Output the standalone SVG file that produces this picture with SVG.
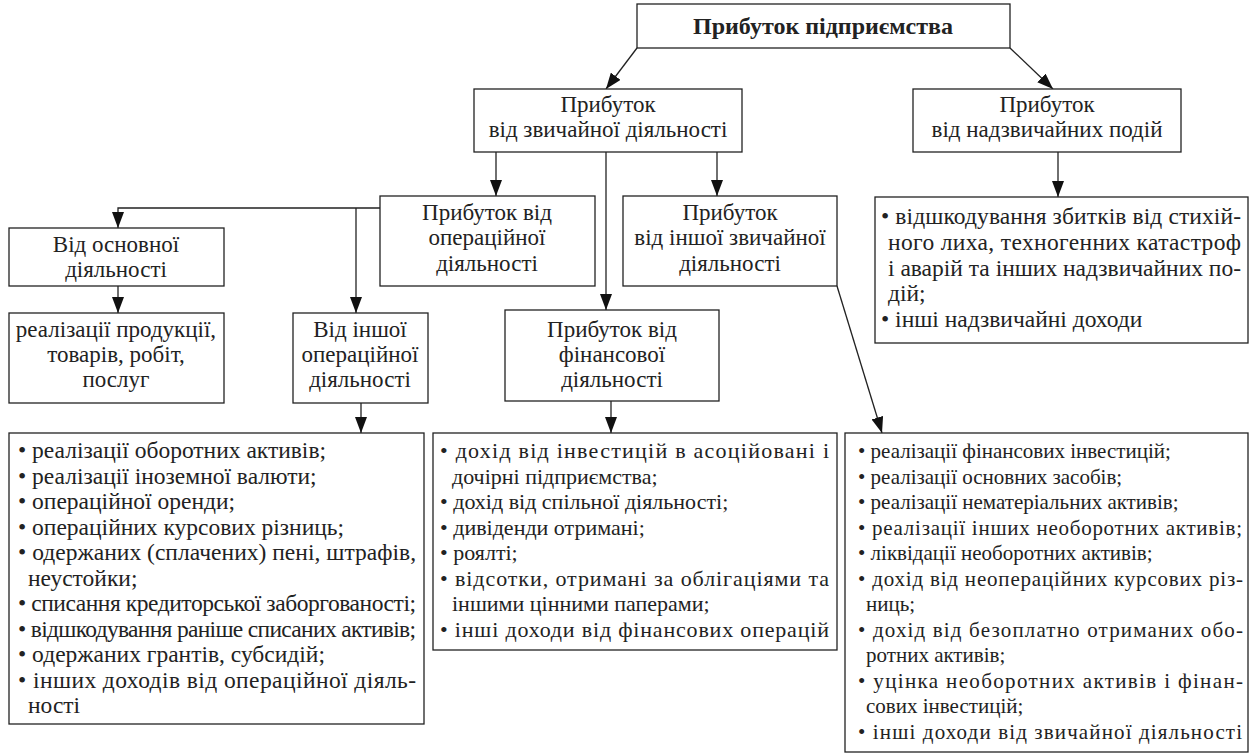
<svg xmlns="http://www.w3.org/2000/svg" width="1249" height="754" viewBox="0 0 1249 754">
<defs>
<style>
.box{fill:#fff;stroke:#222;stroke-width:1.3}
.t{font-family:"Liberation Serif","Times New Roman",serif;font-size:23px;fill:#222;text-anchor:middle}
.b{font-weight:bold;font-size:24px}
.l{font-family:"Liberation Serif","Times New Roman",serif;font-size:23.5px;fill:#222}
.f{font-size:22px}
.r{font-size:21px}
.c{fill:none;stroke:#222;stroke-width:1.3}
</style>
<marker id="ah" markerUnits="userSpaceOnUse" markerWidth="16" markerHeight="12" refX="16" refY="6" orient="auto">
<path d="M0,0 L16,6 L0,12 z" fill="#111"/>
</marker>
</defs>
<rect width="1249" height="754" fill="#fff"/>
<g id="connectors">
<line class="c" x1="637" y1="48" x2="606" y2="89" marker-end="url(#ah)"/>
<line class="c" x1="1010" y1="48" x2="1053" y2="89" marker-end="url(#ah)"/>
<line class="c" x1="496" y1="152" x2="496" y2="196" marker-end="url(#ah)"/>
<line class="c" x1="606" y1="152" x2="606" y2="310" marker-end="url(#ah)"/>
<line class="c" x1="717" y1="152" x2="717" y2="196" marker-end="url(#ah)"/>
<polyline class="c" points="380,208 118,208 118,228" marker-end="url(#ah)"/>
<line class="c" x1="356" y1="208" x2="356" y2="313" marker-end="url(#ah)"/>
<line class="c" x1="118" y1="286" x2="118" y2="313" marker-end="url(#ah)"/>
<line class="c" x1="361" y1="403" x2="361" y2="433" marker-end="url(#ah)"/>
<line class="c" x1="611" y1="401" x2="611" y2="433" marker-end="url(#ah)"/>
<line class="c" x1="837" y1="286" x2="882" y2="433" marker-end="url(#ah)"/>
<line class="c" x1="1058" y1="152" x2="1058" y2="197" marker-end="url(#ah)"/>
</g>
<g id="n-top">
<rect class="box" x="637" y="4" width="373" height="44"/>
<text class="t b" x="823" y="34">Прибуток підприємства</text>
</g>
<g id="n-ordinary">
<rect class="box" x="474" y="89" width="268" height="63"/>
<text class="t" x="608" y="112">Прибуток</text>
<text class="t" x="608" y="137">від звичайної діяльності</text>
</g>
<g id="n-extra">
<rect class="box" x="913" y="89" width="268" height="63"/>
<text class="t" x="1047" y="112">Прибуток</text>
<text class="t" x="1047" y="137">від надзвичайних подій</text>
</g>
<g id="n-oper">
<rect class="box" x="380" y="196" width="215" height="90"/>
<text class="t" x="487" y="220">Прибуток від</text>
<text class="t" x="487" y="245">операційної</text>
<text class="t" x="487" y="271">діяльності</text>
</g>
<g id="n-otherord">
<rect class="box" x="623" y="196" width="214" height="90"/>
<text class="t" x="730" y="220">Прибуток</text>
<text class="t" x="730" y="245">від іншої звичайної</text>
<text class="t" x="730" y="271">діяльності</text>
</g>
<g id="n-main">
<rect class="box" x="9" y="228" width="215" height="58"/>
<text class="t" x="116" y="252">Від основної</text>
<text class="t" x="116" y="277">діяльності</text>
</g>
<g id="n-sales">
<rect class="box" x="9" y="313" width="215" height="90"/>
<text class="t" x="116" y="337">реалізації продукції,</text>
<text class="t" x="116" y="362">товарів, робіт,</text>
<text class="t" x="116" y="387">послуг</text>
</g>
<g id="n-otheroper">
<rect class="box" x="293" y="313" width="135" height="90"/>
<text class="t" x="360" y="337">Від іншої</text>
<text class="t" x="360" y="362">операційної</text>
<text class="t" x="360" y="387">діяльності</text>
</g>
<g id="n-fin">
<rect class="box" x="505" y="310" width="214" height="91"/>
<text class="t" x="612" y="337">Прибуток від</text>
<text class="t" x="612" y="362">фінансової</text>
<text class="t" x="612" y="387">діяльності</text>
</g>
<g id="n-extra-list">
<rect class="box" x="875" y="197" width="373" height="146"/>
<text class="l" x="881" y="224" textLength="360" lengthAdjust="spacing">• відшкодування збитків від стихій-</text>
<text class="l" x="888" y="250" textLength="353" lengthAdjust="spacing">ного лиха, техногенних катастроф</text>
<text class="l" x="888" y="276" textLength="353" lengthAdjust="spacing">і аварій та інших надзвичайних по-</text>
<text class="l" x="888" y="301">дій;</text>
<text class="l" x="881" y="327">• інші надзвичайні доходи</text>
</g>
<g id="n-oper-list">
<rect class="box" x="9" y="433" width="415" height="291"/>
<text class="l" x="18" y="458">• реалізації оборотних активів;</text>
<text class="l" x="18" y="483.5">• реалізації іноземної валюти;</text>
<text class="l" x="18" y="509">• операційної оренди;</text>
<text class="l" x="18" y="534.5">• операційних курсових різниць;</text>
<text class="l" x="18" y="560" textLength="398" lengthAdjust="spacing">• одержаних (сплачених) пені, штрафів,</text>
<text class="l" x="28" y="585.5">неустойки;</text>
<text class="l" x="18" y="611" textLength="398" lengthAdjust="spacing">• списання кредиторської заборгованості;</text>
<text class="l" x="18" y="636.5" textLength="398" lengthAdjust="spacing">• відшкодування раніше списаних активів;</text>
<text class="l" x="18" y="662">• одержаних грантів, субсидій;</text>
<text class="l" x="18" y="687.5" textLength="398" lengthAdjust="spacing">• інших доходів від операційної діяль-</text>
<text class="l" x="28" y="713">ності</text>
</g>
<g id="n-fin-list">
<rect class="box" x="433" y="433" width="404" height="217"/>
<text class="l f" x="440" y="458" textLength="389" lengthAdjust="spacing">• дохід від інвестицій в асоційовані і</text>
<text class="l f" x="452" y="483.5">дочірні підприємства;</text>
<text class="l f" x="440" y="509">• дохід від спільної діяльності;</text>
<text class="l f" x="440" y="534.5">• дивіденди отримані;</text>
<text class="l f" x="440" y="560">• роялті;</text>
<text class="l f" x="440" y="585.5" textLength="389" lengthAdjust="spacing">• відсотки, отримані за облігаціями та</text>
<text class="l f" x="452" y="611">іншими цінними паперами;</text>
<text class="l f" x="440" y="636.5" textLength="389" lengthAdjust="spacing">• інші доходи від фінансових операцій</text>
</g>
<g id="n-other-list">
<rect class="box" x="845" y="433" width="403" height="319"/>
<text class="l r" x="858" y="458">• реалізації фінансових інвестицій;</text>
<text class="l r" x="858" y="483.5">• реалізації основних засобів;</text>
<text class="l r" x="858" y="509">• реалізації нематеріальних активів;</text>
<text class="l r" x="858" y="534.5" textLength="384" lengthAdjust="spacing">• реалізації інших необоротних активів;</text>
<text class="l r" x="858" y="560">• ліквідації необоротних активів;</text>
<text class="l r" x="858" y="585.5" textLength="385" lengthAdjust="spacing">• дохід від неопераційних курсових різ-</text>
<text class="l r" x="866" y="611">ниць;</text>
<text class="l r" x="858" y="636.5" textLength="385" lengthAdjust="spacing">• дохід від  безоплатно отриманих обо-</text>
<text class="l r" x="866" y="662">ротних активів;</text>
<text class="l r" x="858" y="687.5" textLength="385" lengthAdjust="spacing">• уцінка необоротних активів і фінан-</text>
<text class="l r" x="866" y="713">сових інвестицій;</text>
<text class="l r" x="858" y="738.5" textLength="384" lengthAdjust="spacing">• інші доходи від звичайної діяльності</text>
</g>
</svg>
